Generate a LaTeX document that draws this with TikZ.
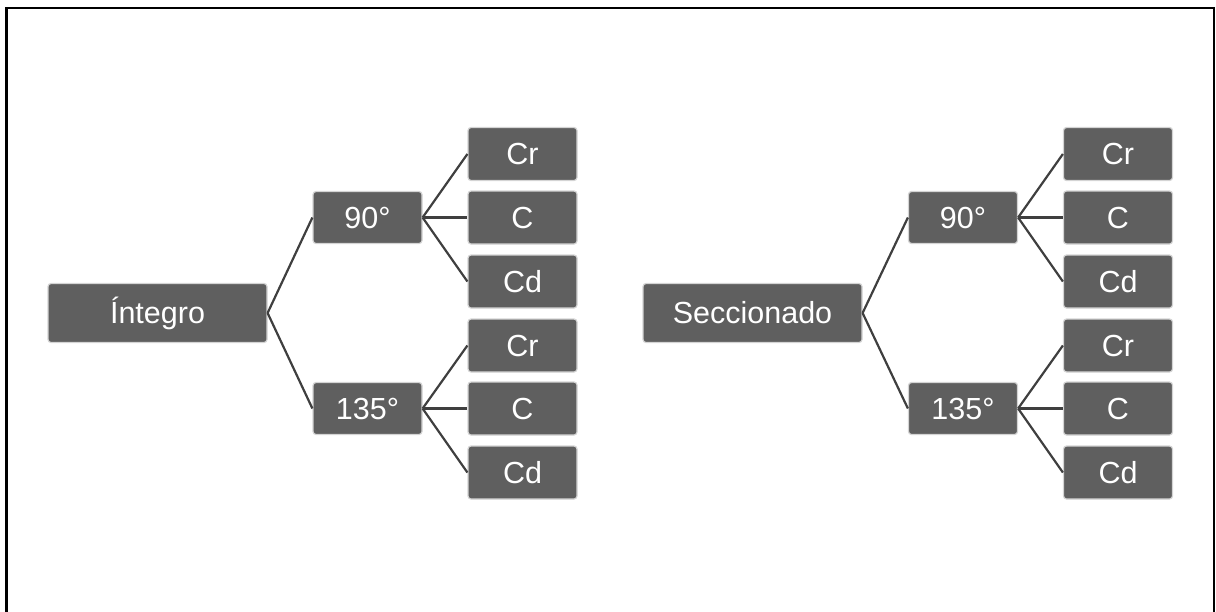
\documentclass[tikz,border=0pt]{standalone}
\usepackage{fontspec}
\setmainfont{Liberation Sans}
\definecolor{boxfill}{HTML}{5F5F5F}
\definecolor{boxedge}{HTML}{D4D4D4}
\definecolor{linkc}{HTML}{3F3F3F}
\begin{document}
\begin{tikzpicture}[x=1pt,y=-1pt,
  box/.style={fill=boxfill,draw=boxedge,line width=1.2pt,rounded corners=3pt,
    text=white,inner sep=0pt,font=\fontsize{30.5}{36}\selectfont},
  rootbox/.style={box,minimum width=219pt,minimum height=59pt},
  midbox/.style={box,minimum width=109pt,minimum height=52pt},
  leafbox/.style={box,minimum width=109pt,minimum height=53pt},
  link/.style={draw=linkc,line width=2.2pt},
  frameline/.style={draw=black,line width=2.5pt}]
\useasboundingbox (0,0) rectangle (1216,611);
% frame
\coordinate (fbl) at (6.3,612);
\coordinate (ftl) at (6.3,7.9);
\coordinate (ftr) at (1214,7.9);
\coordinate (fbr) at (1214,612);
\draw[frameline] (fbl) -- (ftl) -- (ftr) -- (fbr);
% left tree
\node[rootbox] (int) at (157.5,313) {Íntegro};
\node[midbox] (a90) at (367.5,217.5) {90°};
\node[midbox] (a135) at (367.5,408.5) {135°};
\node[leafbox] (l1) at (522.5,154) {Cr};
\node[leafbox] (l2) at (522.5,217.5) {C};
\node[leafbox] (l3) at (522.5,281.5) {Cd};
\node[leafbox] (l4) at (522.5,345.5) {Cr};
\node[leafbox] (l5) at (522.5,408.5) {C};
\node[leafbox] (l6) at (522.5,472.5) {Cd};
\draw[link] (int.east) -- (a90.west);
\draw[link] (int.east) -- (a135.west);
\draw[link] (a90.east) -- (l1.west);
\draw[link] (a90.east) -- (l2.west);
\draw[link] (a90.east) -- (l3.west);
\draw[link] (a135.east) -- (l4.west);
\draw[link] (a135.east) -- (l5.west);
\draw[link] (a135.east) -- (l6.west);
% right tree
\node[rootbox] (sec) at (752.5,313) {Seccionado};
\node[midbox] (b90) at (963,217.5) {90°};
\node[midbox] (b135) at (963,408.5) {135°};
\node[leafbox] (r1) at (1118,154) {Cr};
\node[leafbox] (r2) at (1118,217.5) {C};
\node[leafbox] (r3) at (1118,281.5) {Cd};
\node[leafbox] (r4) at (1118,345.5) {Cr};
\node[leafbox] (r5) at (1118,408.5) {C};
\node[leafbox] (r6) at (1118,472.5) {Cd};
\draw[link] (sec.east) -- (b90.west);
\draw[link] (sec.east) -- (b135.west);
\draw[link] (b90.east) -- (r1.west);
\draw[link] (b90.east) -- (r2.west);
\draw[link] (b90.east) -- (r3.west);
\draw[link] (b135.east) -- (r4.west);
\draw[link] (b135.east) -- (r5.west);
\draw[link] (b135.east) -- (r6.west);
\end{tikzpicture}
\end{document}
